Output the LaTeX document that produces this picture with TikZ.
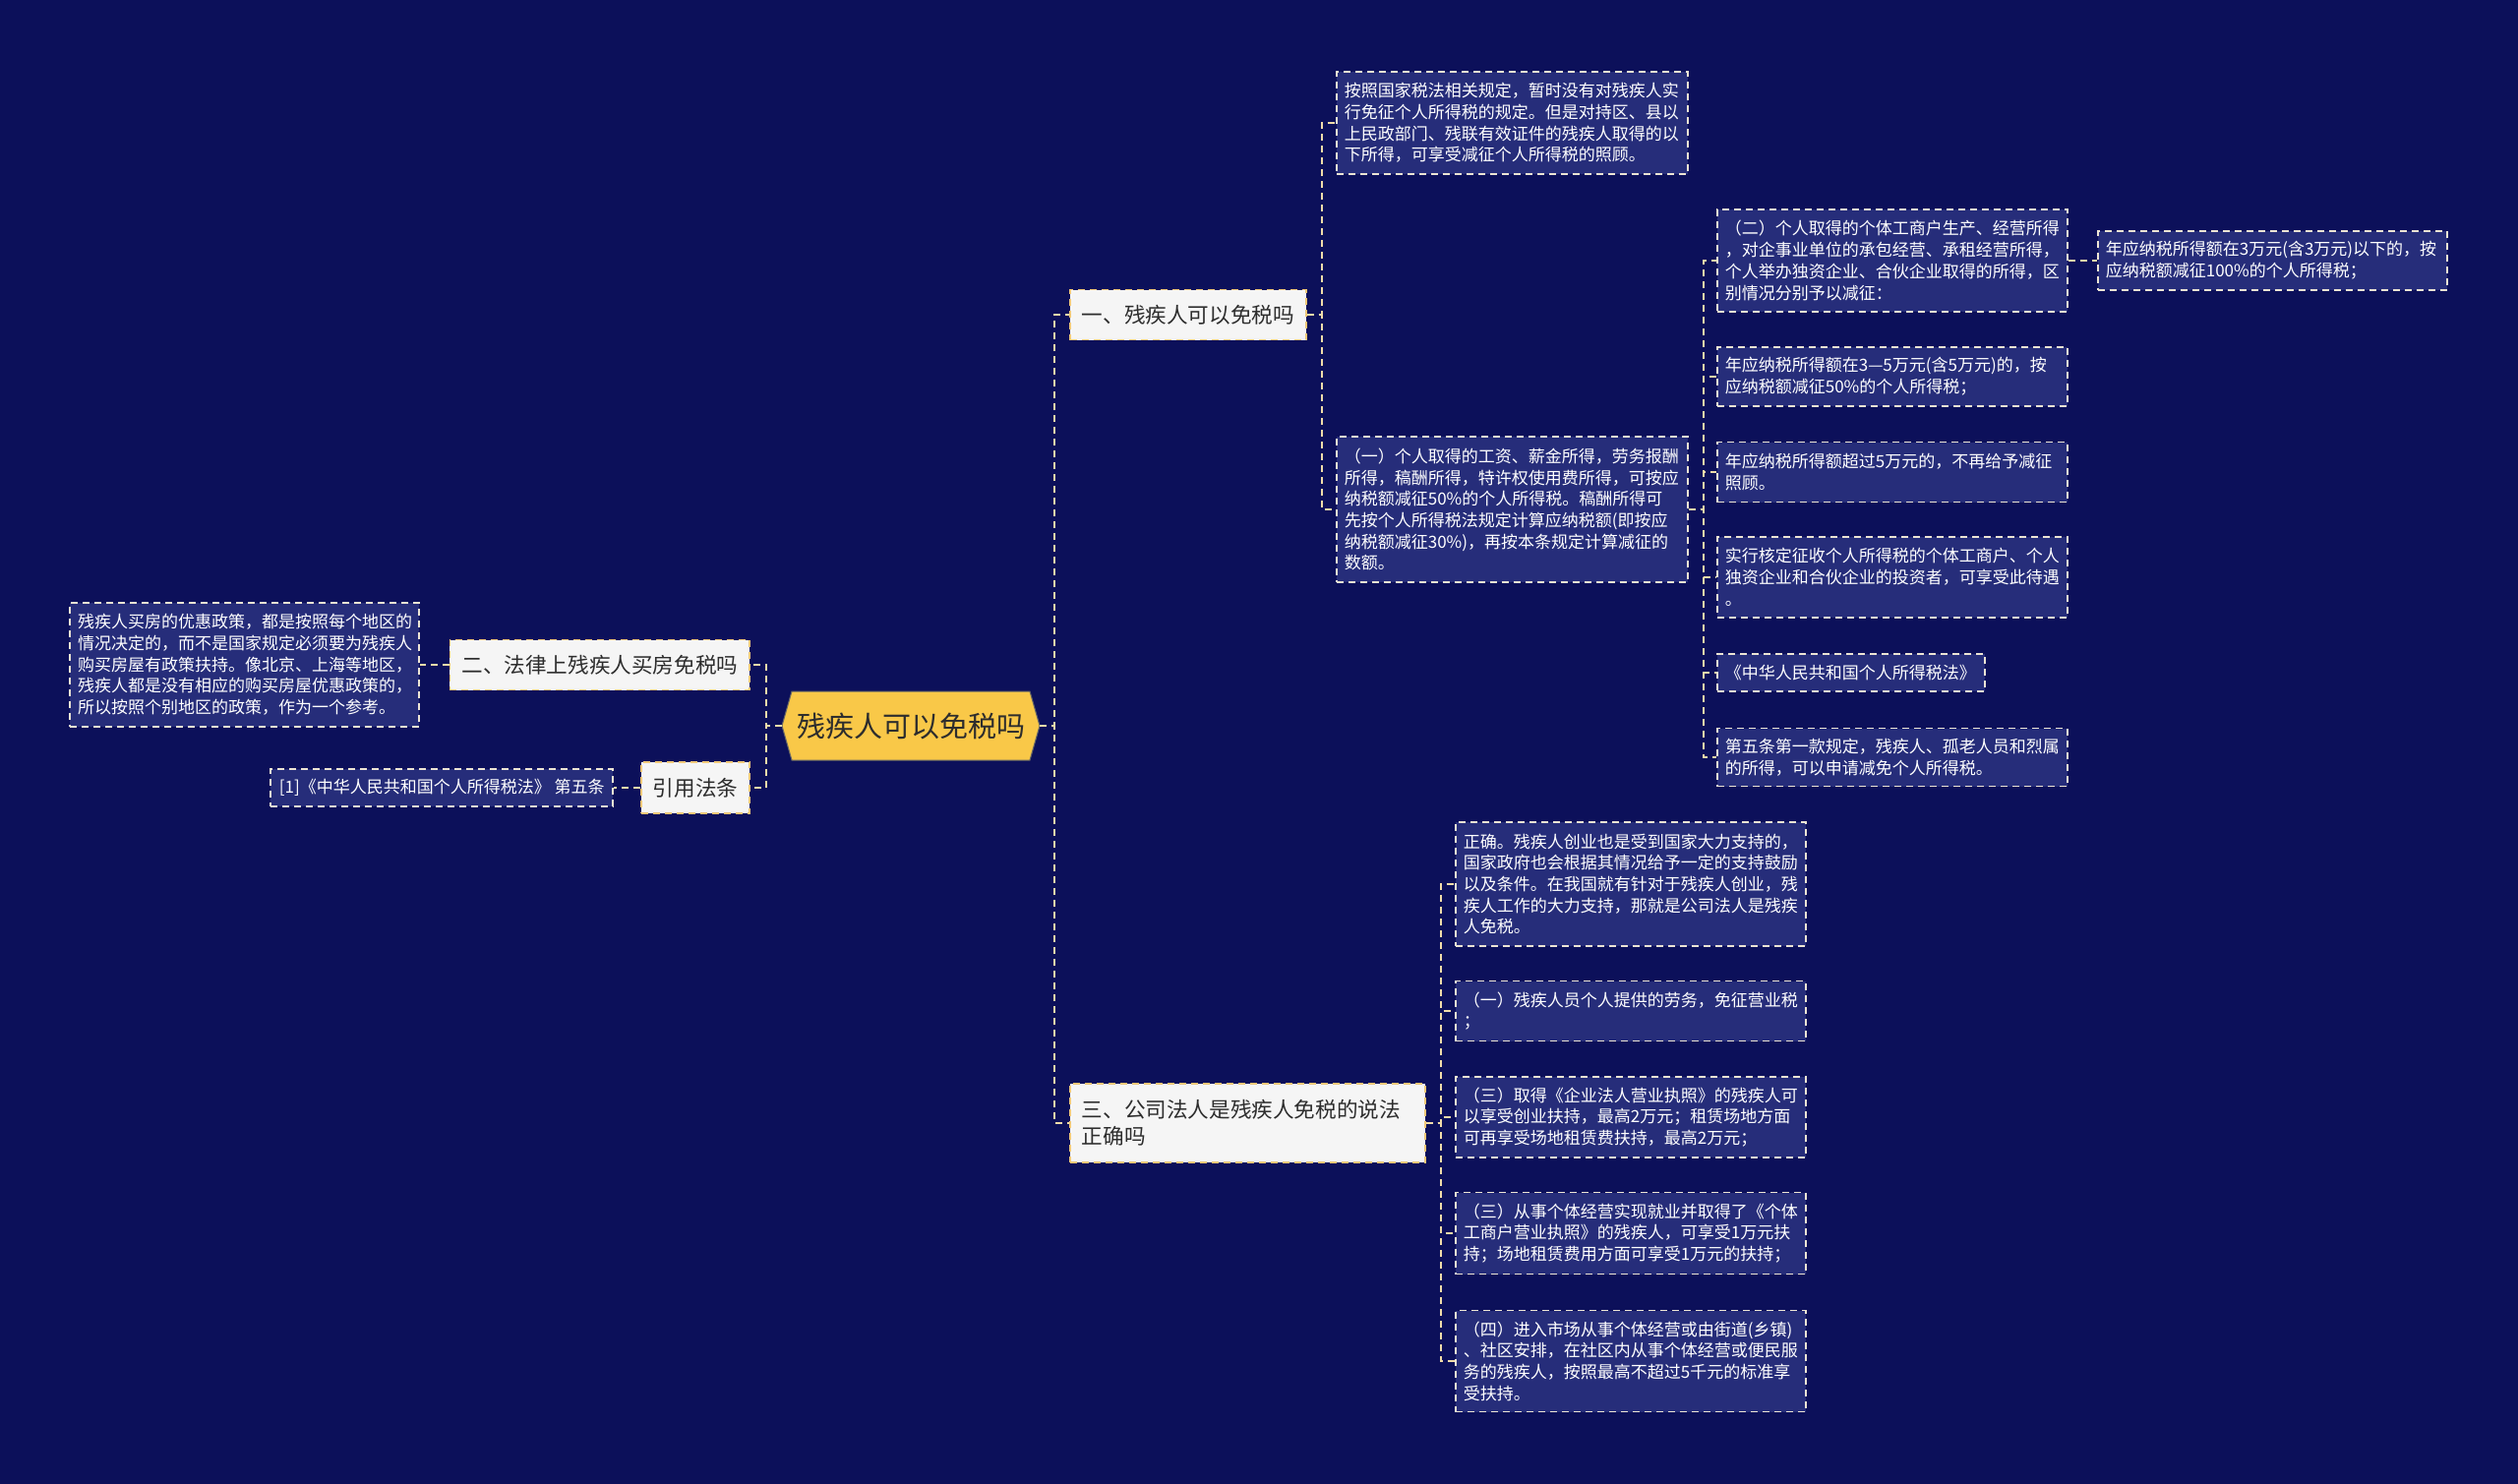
\documentclass[tikz,border=0pt]{standalone}
\usepackage{fontspec}
\setmainfont{Noto Sans CJK SC}
\definecolor{bg}{RGB}{12,16,90}
\definecolor{boxbg}{RGB}{38,45,122}
\definecolor{boxline}{RGB}{236,228,212}
\definecolor{conn}{RGB}{240,220,170}
\definecolor{lvfill}{RGB}{245,245,245}
\definecolor{lvline}{RGB}{240,200,120}
\definecolor{rootfill}{RGB}{249,200,72}
\definecolor{darktext}{RGB}{45,45,45}
\tikzset{
  leaf/.style={draw=boxline, line width=1.6pt, dash pattern=on 7pt off 5pt, fill=boxbg,
    text=white, font=\fontsize{17}{21.7}\selectfont, align=left, inner xsep=8pt, inner ysep=0pt},
  lvl/.style={draw=lvline, line width=1.6pt, dash pattern=on 7pt off 5pt, fill=lvfill,
    text=darktext, font=\fontsize{21.6}{27}\selectfont, align=left, inner xsep=12pt, inner ysep=0pt},
  link/.style={draw=conn, line width=1.8pt, dash pattern=on 7pt off 5pt},
}
\begin{document}
\begin{tikzpicture}[x=1pt,y=-1pt]
\fill[bg] (0,0) rectangle (2560,1509);
\useasboundingbox (0,0) rectangle (2560,1509);

% root
\filldraw[fill=rootfill, draw=black!60, line width=1pt] (795,738) -- (805,703) -- (1047,703) -- (1057,738) -- (1047,773) -- (805,773) -- cycle;
\node[font=\fontsize{29}{34}\selectfont, text=darktext, minimum width=262pt, minimum height=70pt, inner sep=0pt] (root) at (926,738) {残疾人可以免税吗};

% level 1
\node[lvl, anchor=west, minimum width=240pt, minimum height=51pt] (n1) at (1087,320) {一、残疾人可以免税吗};
\node[lvl, anchor=west, text width=337pt, minimum height=80pt] (n3) at (1087,1142) {三、公司法人是残疾人免税的说法\\正确吗};
\node[lvl, anchor=east, minimum width=304pt, minimum height=51pt] (L1) at (763,676) {二、法律上残疾人买房免税吗};
\node[lvl, anchor=east, minimum width=108pt, minimum height=52pt] (L2) at (763,801) {引用法条};

% branch 1
\node[leaf, anchor=west, text width=341pt, minimum height=104pt] (A1) at (1358,125) {按照国家税法相关规定，暂时没有对残疾人实\\行免征个人所得税的规定。但是对持区、县以\\上民政部门、残联有效证件的残疾人取得的以\\下所得，可享受减征个人所得税的照顾。};
\node[leaf, anchor=west, text width=341pt, minimum height=148pt] (A2) at (1358,518) {（一）个人取得的工资、薪金所得，劳务报酬\\所得，稿酬所得，特许权使用费所得，可按应\\纳税额减征50\%的个人所得税。稿酬所得可\\先按个人所得税法规定计算应纳税额(即按应\\纳税额减征30\%)，再按本条规定计算减征的\\数额。};

\node[leaf, anchor=west, text width=340pt, minimum height=104pt] (B1) at (1745,265) {（二）个人取得的个体工商户生产、经营所得\\，对企事业单位的承包经营、承租经营所得，\\个人举办独资企业、合伙企业取得的所得，区\\别情况分别予以减征：};
\node[leaf, anchor=west, text width=339pt, minimum height=60pt] (C1) at (2132,265) {年应纳税所得额在3万元(含3万元)以下的，按\\应纳税额减征100\%的个人所得税；};
\node[leaf, anchor=west, text width=340pt, minimum height=60pt] (B2) at (1745,383) {年应纳税所得额在3—5万元(含5万元)的，按\\应纳税额减征50\%的个人所得税；};
\node[leaf, anchor=west, text width=340pt, minimum height=61pt] (B3) at (1745,480) {年应纳税所得额超过5万元的，不再给予减征\\照顾。};
\node[leaf, anchor=west, text width=340pt, minimum height=82pt] (B4) at (1745,587) {实行核定征收个人所得税的个体工商户、个人\\独资企业和合伙企业的投资者，可享受此待遇\\。};
\node[leaf, anchor=west, text width=256pt, minimum height=38pt] (B5) at (1745,684) {《中华人民共和国个人所得税法》};
\node[leaf, anchor=west, text width=340pt, minimum height=59pt] (B6) at (1745,770) {第五条第一款规定，残疾人、孤老人员和烈属\\的所得，可以申请减免个人所得税。};

% branch 3
\node[leaf, anchor=west, text width=340pt, minimum height=126pt] (D1) at (1479,899) {正确。残疾人创业也是受到国家大力支持的，\\国家政府也会根据其情况给予一定的支持鼓励\\以及条件。在我国就有针对于残疾人创业，残\\疾人工作的大力支持，那就是公司法人是残疾\\人免税。};
\node[leaf, anchor=west, text width=340pt, minimum height=61pt] (D2) at (1479,1028) {（一）残疾人员个人提供的劳务，免征营业税\\；};
\node[leaf, anchor=west, text width=340pt, minimum height=82pt] (D3) at (1479,1136) {（三）取得《企业法人营业执照》的残疾人可\\以享受创业扶持，最高2万元；租赁场地方面\\可再享受场地租赁费扶持，最高2万元；};
\node[leaf, anchor=west, text width=340pt, minimum height=83pt] (D4) at (1479,1254) {（三）从事个体经营实现就业并取得了《个体\\工商户营业执照》的残疾人，可享受1万元扶\\持；场地租赁费用方面可享受1万元的扶持；};
\node[leaf, anchor=west, text width=340pt, minimum height=103pt] (D5) at (1479,1384) {（四）进入市场从事个体经营或由街道(乡镇)\\、社区安排，在社区内从事个体经营或便民服\\务的残疾人，按照最高不超过5千元的标准享\\受扶持。};

% left branch
\node[leaf, anchor=east, text width=339pt, minimum height=126pt] (L1c) at (427,676) {残疾人买房的优惠政策，都是按照每个地区的\\情况决定的，而不是国家规定必须要为残疾人\\购买房屋有政策扶持。像北京、上海等地区，\\残疾人都是没有相应的购买房屋优惠政策的，\\所以按照个别地区的政策，作为一个参考。};
\node[leaf, anchor=east, minimum width=348pt, minimum height=38pt] (L2c) at (624,801) {[1]《中华人民共和国个人所得税法》~第五条};

% connectors
\draw[link] (root.east) -- ++(15,0) |- (n1.west);
\draw[link] (root.east) -- ++(15,0) |- (n3.west);
\draw[link] (root.west) -- ++(-16,0) |- (L1.east);
\draw[link] (root.west) -- ++(-16,0) |- (L2.east);
\draw[link] (n1.east) -- ++(15,0) |- (A1.west);
\draw[link] (n1.east) -- ++(15,0) |- (A2.west);
\foreach \b in {B1,B2,B3,B4,B5,B6}{
  \draw[link] (A2.east) -- ++(15,0) |- (\b.west);
}
\draw[link] (B1.east) -- (C1.west);
\foreach \d in {D1,D2,D3,D4,D5}{
  \draw[link] (n3.east) -- ++(15,0) |- (\d.west);
}
\draw[link] (L1.west) -- (L1c.east);
\draw[link] (L2.west) -- (L2c.east);
\end{tikzpicture}
\end{document}
